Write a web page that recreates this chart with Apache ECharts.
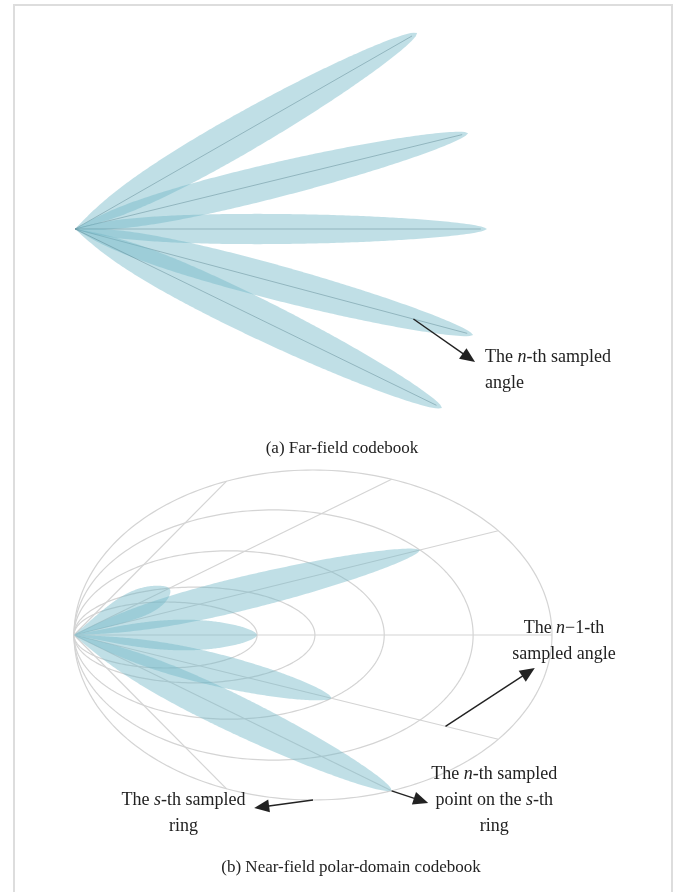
<!DOCTYPE html>
<html>
<head>
<meta charset="utf-8">
<script src="https://cdn.jsdelivr.net/npm/echarts@6/dist/echarts.min.js"></script>
<style>
  html, body { margin: 0; padding: 0; background: #fff; }
  #chart { width: 682px; height: 892px; }
</style>
</head>
<body>
<div id="chart"></div>
<script>
// (a) Far-field codebook: one beam per sampled angle
const farBeamAngles = [29.8, 13.7, 0, -14.9, -26.0];      // beam direction, degrees
const farBeamReach  = [0.957, 0.982, 1.0, 1.0, 0.991];    // relative beam length
const farBeamWidths = [0.096, 0.086, 0.074, 0.086, 0.096]; // relative main-lobe width

// (b) Near-field polar-domain codebook: rings x angles
const ringReach      = [0.383, 0.504, 0.649, 0.835, 1.0]; // extent of each ring along the broadside axis
const ringHalfHeight = [0.100, 0.145, 0.255, 0.379, 0.5]; // half height of each ring
const spokeAngles    = [55.6, 35.4, 19.6, 0, -19.6, -35.4, -55.6];
const nearBeamAngles = [35.4, 19.6, 0, -19.6, -35.4];
const nearBeamRing   = [2, 4, 1, 3, 5];                   // ring each beam focuses on (1-based)
const nearBeamWidths = [0.108, 0.102, 0.112, 0.102, 0.106];

const captions = ['(a) Far-field codebook', '(b) Near-field polar-domain codebook'];

const BEAM_FILL = 'rgba(115,185,200,0.45)';
const BEAM_AXIS = 'rgba(80,125,135,0.42)';
const GRID_LINE = '#d4d4d4';
const INK = '#222';
const SERIF = '"Liberation Serif", "DejaVu Serif", serif';

const rad = d => d * Math.PI / 180;

// where a ray from the array centre at angle deg crosses ring s (0-based)
function ringHit(deg, s) {
  const a = ringReach[s] / 2, h = ringHalfHeight[s];
  const c = Math.cos(rad(deg)), sn = Math.sin(rad(deg));
  const t = (2 * c / a) / (c * c / (a * a) + sn * sn / (h * h));
  return [t * c, t * sn];
}

// main-lobe outline of a beam leaving the origin at angle deg;
// the lobe opens from a sharp point at the array and rounds off at its tip
function beamOutline(deg, len, width) {
  const c = Math.cos(rad(deg)), s = Math.sin(rad(deg));
  const A = 0.45, B = 0.6, N = 140, SPREAD = 0.3, P = 3;
  const tm = A / (A + B), fm = Math.pow(tm, A) * Math.pow(1 - tm, B);
  const upper = [], lower = [];
  for (let i = 0; i <= N; i++) {
    const t = i / N;
    const u = t * len;
    const body = width / 2 * Math.pow(t, A) * Math.pow(1 - t, B) / fm;
    const cone = u * SPREAD;
    // smooth minimum of the lobe body and the opening cone
    const w = (body > 0 && cone > 0) ? Math.pow(Math.pow(body, -P) + Math.pow(cone, -P), -1 / P) : 0;
    upper.push([u * c - w * s, u * s + w * c]);
    lower.push([u * c + w * s, u * s - w * c]);
  }
  return upper.concat(lower.reverse());
}

function along(deg, r) {
  return [r * Math.cos(rad(deg)), r * Math.sin(rad(deg))];
}

function arrowShapes(p0, p1) {
  const dx = p1[0] - p0[0], dy = p1[1] - p0[1], len = Math.hypot(dx, dy);
  const ux = dx / len, uy = dy / len, hl = 15, hw = 6.5;
  const bx = p1[0] - ux * hl, by = p1[1] - uy * hl;
  return [
    { type: 'line', shape: { x1: p0[0], y1: p0[1], x2: bx + ux * 2, y2: by + uy * 2 },
      style: { stroke: INK, lineWidth: 1.4 } },
    { type: 'polygon', shape: { points: [p1, [bx - uy * hw, by + ux * hw], [bx + uy * hw, by - ux * hw]] },
      style: { fill: INK } }
  ];
}

const richItalic = { i: { fontStyle: 'italic', fontFamily: SERIF, fontSize: 18, fill: INK, color: INK, lineHeight: 26 } };

function noteText(p, text, align) {
  return {
    type: 'text', x: p[0], y: p[1],
    style: {
      text: text, fill: INK, fontFamily: SERIF, fontSize: 18, lineHeight: 26,
      align: align, verticalAlign: 'middle', rich: richItalic
    }
  };
}

// annotations, anchored in each panel's own coordinates
const farNotes = [
  { text: 'The {i|n}-th sampled\nangle', align: 'left', at: [0.995, -0.342],
    from: along(farBeamAngles[3], 0.85 * farBeamReach[3]), to: [0.971, -0.323] }
];
const outerRing = ringReach.length - 1;
const nearNotes = [
  { text: 'The {i|s}-th sampled\nring', align: 'center', at: [0.229, -0.539],
    from: [ringReach[outerRing] / 2, -ringHalfHeight[outerRing]], to: [0.377, -0.524] },
  { text: 'The {i|n}-th sampled\npoint on the {i|s}-th\nring', align: 'center', at: [0.879, -0.5],
    from: ringHit(nearBeamAngles[4], nearBeamRing[4] - 1), to: [0.741, -0.509] },
  { text: 'The {i|n}\u22121-th\nsampled angle', align: 'center', at: [1.025, -0.018],
    from: along(-19.6, 0.825), to: [0.964, -0.1] }
];

function renderNotes(notes) {
  return function (params, api) {
    const n = notes[params.dataIndex];
    const p0 = api.coord(n.from), p1 = api.coord(n.to);
    return { type: 'group', children: arrowShapes(p0, p1).concat([noteText(api.coord(n.at), n.text, n.align)]) };
  };
}

function renderFarBeam(params, api) {
  const i = params.dataIndex;
  const pts = beamOutline(farBeamAngles[i], farBeamReach[i], farBeamWidths[i]).map(p => api.coord(p));
  const o = api.coord([0, 0]);
  const tip = api.coord(along(farBeamAngles[i], farBeamReach[i] * 0.985));
  return {
    type: 'group',
    children: [
      { type: 'polygon', shape: { points: pts }, style: { fill: BEAM_FILL } },
      { type: 'line', shape: { x1: o[0], y1: o[1], x2: tip[0], y2: tip[1] }, style: { stroke: BEAM_AXIS, lineWidth: 1 } }
    ]
  };
}

function renderNearBeam(params, api) {
  const i = params.dataIndex;
  const tip = ringHit(nearBeamAngles[i], nearBeamRing[i] - 1);
  const len = Math.hypot(tip[0], tip[1]);
  const pts = beamOutline(nearBeamAngles[i], len, nearBeamWidths[i]).map(p => api.coord(p));
  return { type: 'polygon', shape: { points: pts }, style: { fill: BEAM_FILL } };
}

function renderRing(params, api) {
  const s = params.dataIndex;
  const a = ringReach[s] / 2, h = ringHalfHeight[s];
  const pts = [];
  for (let k = 0; k <= 240; k++) {
    const phi = 2 * Math.PI * k / 240;
    pts.push(api.coord([a * (1 + Math.cos(phi)), h * Math.sin(phi)]));
  }
  return { type: 'polyline', shape: { points: pts }, style: { stroke: GRID_LINE, lineWidth: 1.2, fill: null } };
}

function renderSpoke(params, api) {
  const o = api.coord([0, 0]);
  const e = api.coord(ringHit(spokeAngles[params.dataIndex], outerRing));
  return { type: 'line', shape: { x1: o[0], y1: o[1], x2: e[0], y2: e[1] }, style: { stroke: GRID_LINE, lineWidth: 1.2 } };
}

const hiddenAxis = { show: false, type: 'value', min: 0, max: 1 };
const hiddenYAxis = { show: false, type: 'value', min: -0.5, max: 0.5 };

const option = {
  backgroundColor: '#ffffff',
  animation: false,
  grid: [
    { left: 75, top: 23, width: 412, height: 412 },
    { left: 74, top: 470, width: 478, height: 330 }
  ],
  xAxis: [Object.assign({ gridIndex: 0 }, hiddenAxis), Object.assign({ gridIndex: 1 }, hiddenAxis)],
  yAxis: [Object.assign({ gridIndex: 0 }, hiddenYAxis), Object.assign({ gridIndex: 1 }, hiddenYAxis)],
  series: [
    { type: 'custom', name: 'rings', xAxisIndex: 1, yAxisIndex: 1, silent: true,
      data: ringReach.map((r, i) => [r, ringHalfHeight[i]]), renderItem: renderRing },
    { type: 'custom', name: 'spokes', xAxisIndex: 1, yAxisIndex: 1, silent: true,
      data: spokeAngles.map(a => [0, 0]), renderItem: renderSpoke },
    { type: 'custom', name: 'near-field beams', xAxisIndex: 1, yAxisIndex: 1, silent: true,
      data: nearBeamAngles.map((a, i) => [0, 0]), renderItem: renderNearBeam },
    { type: 'custom', name: 'far-field beams', xAxisIndex: 0, yAxisIndex: 0, silent: true,
      data: farBeamAngles.map((a, i) => [0, 0]), renderItem: renderFarBeam },
    { type: 'custom', name: 'far notes', xAxisIndex: 0, yAxisIndex: 0, silent: true,
      data: farNotes.map(() => [0, 0]), renderItem: renderNotes(farNotes) },
    { type: 'custom', name: 'near notes', xAxisIndex: 1, yAxisIndex: 1, silent: true,
      data: nearNotes.map(() => [0, 0]), renderItem: renderNotes(nearNotes) }
  ],
  graphic: [
    { type: 'rect', silent: true, shape: { x: 14, y: 5, width: 658, height: 900 },
      style: { fill: 'none', stroke: '#dddddd', lineWidth: 2 } },
    { type: 'text', silent: true, x: 342, y: 449,
      style: { text: captions[0], fontFamily: SERIF, fontSize: 17, fill: INK, align: 'center', textAlign: 'center', verticalAlign: 'middle', textVerticalAlign: 'middle' } },
    { type: 'text', silent: true, x: 351, y: 868,
      style: { text: captions[1], fontFamily: SERIF, fontSize: 17, fill: INK, align: 'center', textAlign: 'center', verticalAlign: 'middle', textVerticalAlign: 'middle' } }
  ]
};

const chart = echarts.init(document.getElementById('chart'));
chart.setOption(option);
</script>
</body>
</html>
